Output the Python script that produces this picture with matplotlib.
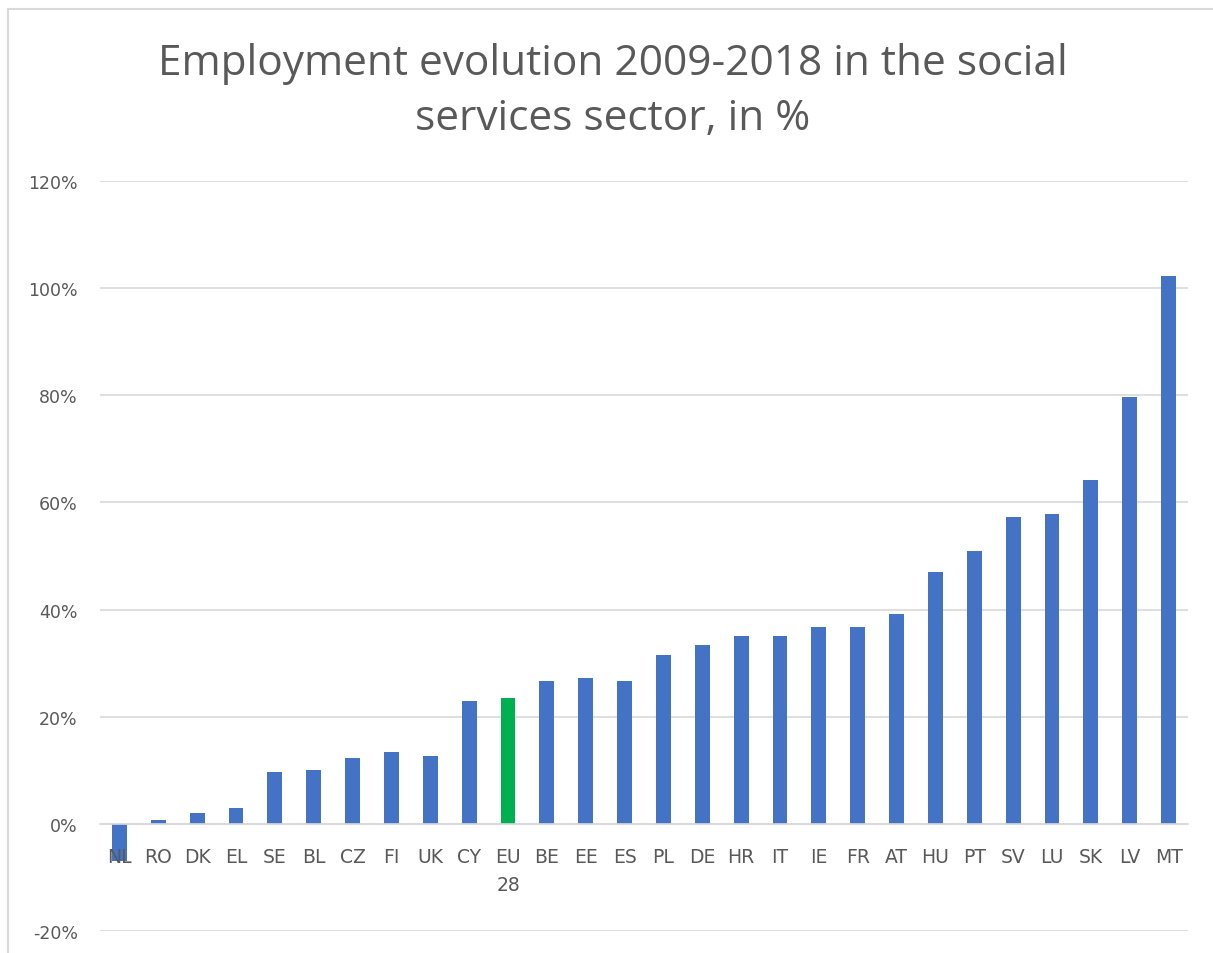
import matplotlib
matplotlib.use('Agg')
import matplotlib.pyplot as plt
from matplotlib.patches import Rectangle
from matplotlib.ticker import FuncFormatter

# Data
paises = ['NL', 'RO', 'DK', 'EL', 'SE', 'BL', 'CZ', 'FI', 'UK', 'CY', 'EU\n28',
          'BE', 'EE', 'ES', 'PL', 'DE', 'HR', 'IT', 'IE', 'FR', 'AT', 'HU',
          'PT', 'SV', 'LU', 'SK', 'LV', 'MT']
valores = [-7.0, 0.7, 2.0, 3.0, 9.7, 10.0, 12.3, 13.4, 12.7, 23.0, 23.5,
           26.7, 27.2, 26.7, 31.6, 33.4, 35.1, 35.0, 36.8, 36.8, 39.2, 47.0,
           51.0, 57.2, 57.9, 64.1, 79.6, 102.3]
yticks = [-20, 0, 20, 40, 60, 80, 100, 120]

azul = '#4472c4'
verde = '#00b050'
gris = '#595959'
colores = [verde if p.startswith('EU') else azul for p in paises]

fig = plt.figure(figsize=(12.13, 9.54), dpi=100)
ax = fig.add_axes([100 / 1213, 22 / 954, 1088 / 1213, 750 / 954])

x = list(range(len(paises)))
ax.bar(x, valores, width=0.38, color=colores, zorder=3)

ax.set_xlim(-0.5, len(paises) - 0.5)
ax.set_ylim(-20, 120)
ax.set_yticks(yticks)
ax.yaxis.set_major_formatter(FuncFormatter(lambda v, _: f'{v:.0f}%'))
ax.grid(axis='y', color='#d9d9d9', linewidth=1.2, zorder=0)

for s in ['top', 'right', 'left']:
    ax.spines[s].set_visible(False)
ax.spines['bottom'].set_position(('data', 0))
ax.spines['bottom'].set_color('#d9d9d9')
ax.spines['bottom'].set_linewidth(1.2)
ax.spines['bottom'].set_zorder(4)

ax.set_xticks(x)
ax.set_xticklabels(paises, fontsize=13.5, color=gris, linespacing=1.6)
ax.tick_params(axis='x', length=0, pad=17)
ax.tick_params(axis='y', length=0, pad=16, labelsize=12.5, labelcolor=gris)
# labels drawn over the bars, as in the original (NL)
ax.xaxis.set_zorder(5)

fig.text(0.505, 0.904, 'Employment evolution 2009-2018 in the social\nservices sector, in %',
         ha='center', va='center', fontsize=30.5, color=gris, linespacing=1.42,
         family='Open Sans')

# chart border (cropped on the right and bottom)
fig.patches.append(Rectangle((8 / 1213, -0.1), 1.2, 0.1 + (954 - 10) / 954,
                             transform=fig.transFigure, fill=False,
                             edgecolor='#d9d9d9', linewidth=1.5))

fig.savefig('out.png', dpi=100)
